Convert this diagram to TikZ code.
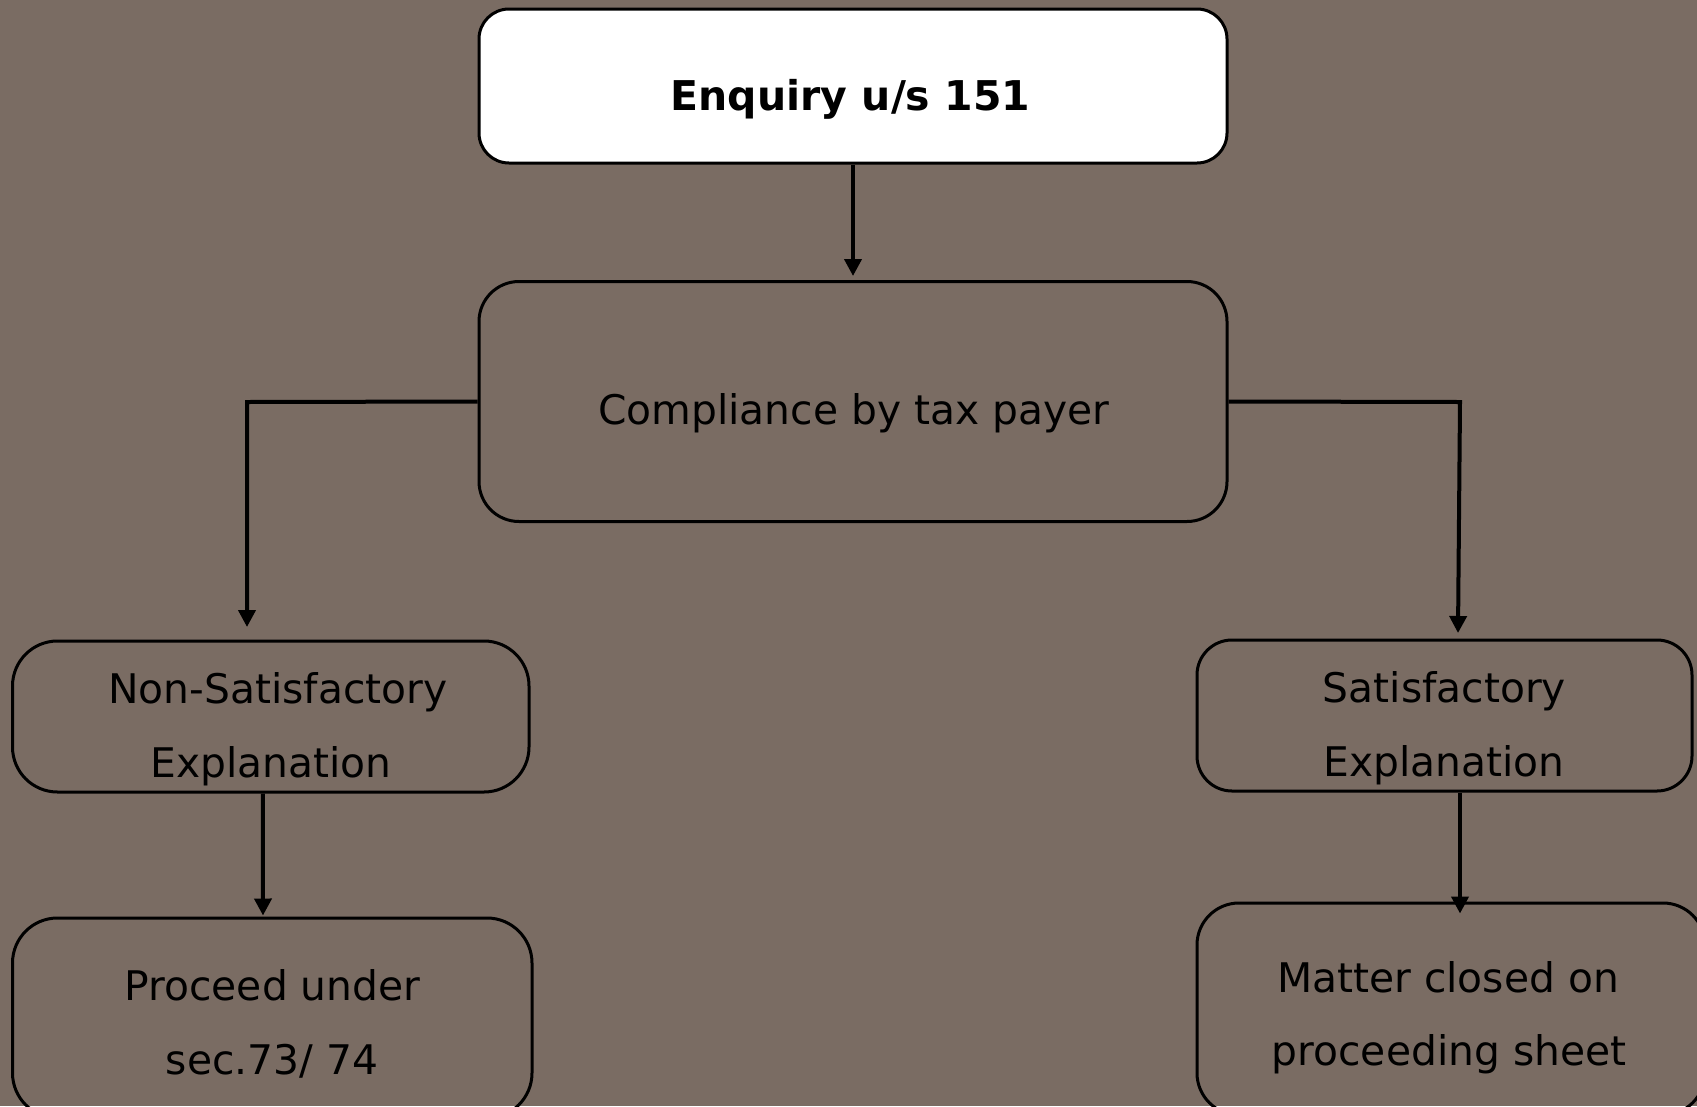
\documentclass[tikz,border=0pt]{standalone}
\usepackage{fontspec}
\setmainfont{DejaVu Sans}
\usetikzlibrary{arrows.meta}
\definecolor{bgtaupe}{RGB}{122,108,99}
\tikzset{
  box/.style={draw=black, line width=3pt, rectangle, inner sep=0pt},
  label text/.style={anchor=base, inner sep=0pt, text=black,
    font=\fontsize{40.8}{74}\selectfont},
  flow/.style={draw=black, line width=4pt,
    -{Triangle[width=17pt,length=17pt]}},
}
\begin{document}
\begin{tikzpicture}[x=1pt,y=-1pt]
  % canvas
  \useasboundingbox (0,0) rectangle (1697,1106);
  \fill[bgtaupe] (0,0) rectangle (1697,1106);
  \clip (0,0) rectangle (1697,1106);

  % boxes
  \node[box, fill=white, rounded corners=30pt, minimum width=748pt, minimum height=154pt] (enq) at (853,86) {};
  \node[box, rounded corners=40pt, minimum width=748pt, minimum height=240pt] (comp) at (853,401.5) {};
  \node[box, rounded corners=45pt, minimum width=516.5pt, minimum height=151pt] (nse) at (270.75,716.5) {};
  \node[box, rounded corners=45pt, minimum width=519.5pt, minimum height=200pt] (proc) at (272.25,1018) {};
  \node[box, rounded corners=35pt, minimum width=495pt, minimum height=151pt] (sat) at (1444.5,715.5) {};
  \node[box, rounded corners=42pt, minimum width=508pt, minimum height=212pt] (mat) at (1451,1009) {};

  % texts
  \node[label text, font=\fontsize{41}{74}\selectfont\bfseries] (tenq) at (850.5,110) {Enquiry u/s 151};
  \node[label text] (tcomp) at (853.7,424) {Compliance by tax payer};
  \node[label text] (tnse1) at (278,703) {Non-Satisfactory};
  \node[label text] (tnse2) at (271,777) {Explanation};
  \node[label text] (tproc1) at (272.5,1000) {Proceed under};
  \node[label text] (tproc2) at (272,1074) {sec.73/ 74};
  \node[label text] (tsat1) at (1444.5,702) {Satisfactory};
  \node[label text] (tsat2) at (1444,776) {Explanation};
  \node[label text] (tmat1) at (1448,992) {Matter closed on};
  \node[label text] (tmat2) at (1449,1065) {proceeding sheet};

  % connector corners and ends
  \coordinate (lk) at (247,402);
  \coordinate (lend) at (247,627);
  \coordinate (rk) at (1460,402);
  \coordinate (rend) at (1458,633);

  % connectors
  \draw[flow, shorten >=4pt] (enq.south) -- (comp.north);
  \draw[flow] (comp.west) -- (lk) -- (lend);
  \draw[flow] (comp.east) -- (rk) -- (rend);
  \draw[flow, shorten >=1pt] ([xshift=-8pt]nse.south) -- ([xshift=-9.25pt]proc.north);
  \draw[flow, shorten >=-12pt] ([xshift=15.5pt]sat.south) -- ([xshift=9pt]mat.north);
\end{tikzpicture}
\end{document}
